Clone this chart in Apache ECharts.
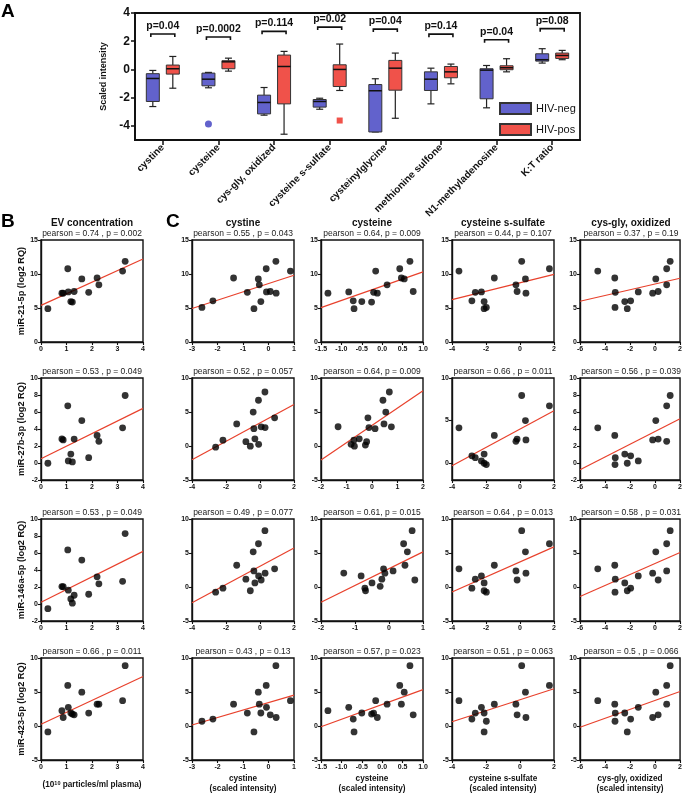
<!DOCTYPE html>
<html><head><meta charset="utf-8">
<script src="https://cdn.jsdelivr.net/npm/echarts@6/dist/echarts.min.js"></script>
<style>html,body{margin:0;padding:0;background:#fff}#c{width:685px;height:795px}</style>
</head><body><div id="c"></div>
<script>
// ---------- Panel A data ----------
const metabolites = ['cystine','cysteine','cys-gly, oxidized','cysteine s-sulfate','cysteinylglycine','methionine sulfone','N1-methyladenosine','K:T ratio'];
// [min, q1, median, q3, max]
const hivNegBox = [
  [-2.63,-2.27,-0.64,-0.30,-0.07],
  [-1.30,-1.16,-0.69,-0.26,-0.21],
  [-3.24,-3.15,-2.34,-1.82,-1.28],
  [-2.82,-2.67,-2.27,-2.13,-2.04],
  [-4.43,-4.43,-1.51,-1.07,-0.66],
  [-2.44,-1.49,-0.69,-0.17,0.09],
  [-2.72,-2.08,-0.05,0.05,0.28],
  [0.45,0.59,0.69,1.11,1.47]
];
const hivPosBox = [
  [-1.33,-0.33,0.05,0.31,0.92],
  [-0.12,0.05,0.54,0.62,0.80],
  [-4.59,-2.44,0.21,1.02,1.28],
  [-1.49,-1.21,0.00,0.33,1.80],
  [-3.46,-1.47,0.09,0.64,1.16],
  [-1.02,-0.59,-0.17,0.21,0.38],
  [-0.17,-0.02,0.12,0.26,0.76],
  [0.69,0.78,0.99,1.16,1.35]
];
const hivNegOutliers = [[1,-3.86]];
const hivPosOutliers = [[3,-3.62]];
const bracketY = [2.51,2.30,2.70,3.00,2.86,2.50,2.10,2.89];
const pLabels = ['p=0.04','p=0.0002','p=0.114','p=0.02','p=0.04','p=0.14','p=0.04','p=0.08'];
const aYTicks = [-4,-2,0,2,4];

// ---------- Panels B / C data (one entry per subject; null = not measured) ----------
const evConc   = [0.27,0.82,0.87,1.05,1.07,1.17,1.23,1.30,1.60,1.87,2.20,2.27,3.20,3.30,null,null];
const cystine  = [-0.57,null,0.30,-0.09,-0.08,-0.30,null,0.07,-0.40,-0.83,-1.37,-0.36,0.86,0.29,-2.61,-2.18];
const cysteine = [-0.69,-1.33,-0.12,0.43,-0.82,-0.50,-0.26,0.76,0.54,-0.21,0.47,0.12,-0.16,0.68,null,-0.71];
const sSulfate = [-2.11,null,0.35,1.73,-2.27,-2.11,null,-0.17,0.32,-2.63,-1.51,-0.24,-3.59,0.10,-1.98,-2.83];
const cysGlyOx = [-2.22,null,-0.19,0.93,-1.34,-2.42,null,0.25,0.06,-3.18,-3.22,0.93,-4.58,1.21,-3.20,-1.95];
const miR21    = [4.90,7.18,7.18,10.77,7.36,5.95,5.87,7.43,9.28,7.30,9.41,8.41,10.43,11.87,5.08,6.05];
const miR27b   = [-0.03,2.83,2.71,6.73,0.25,1.05,0.13,2.82,4.99,0.63,3.25,2.55,4.14,7.94,-0.18,0.85];
const miR146a  = [-0.55,2.05,2.03,6.36,1.63,0.60,0.10,1.03,5.17,1.15,3.20,2.37,2.67,8.28,-0.76,-0.18];
const miR423   = [-0.87,2.25,1.25,5.97,2.75,1.91,1.76,1.64,4.98,1.90,3.21,3.21,3.72,8.87,0.70,1.02];

const colTitles = ['EV concentration','cystine','cysteine','cysteine s-sulfate','cys-gly, oxidized'];
const colX = [evConc, cystine, cysteine, sSulfate, cysGlyOx];
const colXNames = ['(10{s|10} particles/ml plasma)','cystine\n(scaled intensity)','cysteine\n(scaled intensity)','cysteine s-sulfate\n(scaled intensity)','cys-gly, oxidized\n(scaled intensity)'];
const rowNames = ['miR-21-5p (log2 RQ)','miR-27b-3p (log2 RQ)','miR-146a-5p (log2 RQ)','miR-423-5p (log2 RQ)'];
const rowY = [miR21, miR27b, miR146a, miR423];
const pearsonText = [
  ['pearson = 0.74 , p = 0.002','pearson = 0.55 , p = 0.043','pearson = 0.64, p = 0.009','pearson = 0.44, p = 0.107','pearson = 0.37 , p = 0.19'],
  ['pearson = 0.53 , p = 0.049','pearson = 0.52 , p = 0.057','pearson = 0.64, p = 0.009','pearson = 0.66 , p = 0.011','pearson = 0.56 , p = 0.039'],
  ['pearson = 0.53 , p = 0.049','pearson = 0.49 , p = 0.077','pearson = 0.61, p = 0.015','pearson = 0.64 , p = 0.013','pearson = 0.58 , p = 0.031'],
  ['pearson = 0.66 , p = 0.011','pearson = 0.43 , p = 0.13','pearson = 0.57, p = 0.023','pearson = 0.51 , p = 0.063','pearson = 0.5 , p = 0.066']
];
// axis ticks: [min, max, interval]
const xTicks = [
  [[0,4,1],[-3,1,1],[-1.5,1,0.5],[-4,2,2],[-6,2,2]],
  [[0,4,1],[-4,2,2],[-2,2,1],[-4,2,2],[-6,2,2]],
  [[0,4,1],[-4,2,2],[-2,1,1],[-4,2,2],[-6,2,2]],
  [[0,4,1],[-3,1,1],[-1.5,1,0.5],[-4,2,2],[-6,2,2]]
];
const yTicks = [
  [[0,15,5],[0,15,5],[0,15,5],[0,15,5],[0,15,5]],
  [[-2,10,2],[-5,10,5],[-5,10,5],[-2,10,null],[-2,10,2]],
  [[-2,10,2],[-5,10,5],[-5,10,5],[-5,10,5],[-5,10,5]],
  [[-5,10,5],[-5,10,5],[-5,10,5],[-5,10,5],[-5,10,5]]
];
const yCustomLabels = [0,5,10];

// ---------- layout ----------
const F = '"Liberation Sans", Arial, sans-serif';
const colLeft = [41,192,321,452,580];
const rowTop = [240,378,519,658];
const PW = 102, PH = 102;
const A = {left:135, top:13, width:445, height:127};
const NEG = '#6262cc', POS = '#f0524a', INK = '#111';

const grids = [{left:A.left, top:A.top, width:A.width, height:A.height, show:true, borderColor:'#111', borderWidth:1.8, backgroundColor:'transparent'}];
const xAxes = [{
  gridIndex:0, type:'category', data:metabolites, boundaryGap:true,
  axisLine:{show:true, onZero:false, lineStyle:{color:INK, width:1.8}},
  axisTick:{show:true, alignWithLabel:true, length:5, lineStyle:{color:INK, width:1.5}},
  axisLabel:{interval:0, rotate:45, fontFamily:F, fontWeight:'bold', fontSize:10, color:INK, margin:6},
  splitLine:{show:false}
}];
const yAxes = [{
  gridIndex:0, type:'value', min:-5, max:4,
  axisLine:{show:true, onZero:false, lineStyle:{color:INK, width:1.8}},
  axisTick:{show:true, length:4, customValues:aYTicks, lineStyle:{color:INK, width:1.5}},
  axisLabel:{customValues:aYTicks, fontFamily:F, fontWeight:'bold', fontSize:12, color:INK, margin:5},
  splitLine:{show:false},
  name:'Scaled intensity', nameLocation:'middle', nameGap:24,
  nameTextStyle:{fontFamily:F, fontWeight:'bold', fontSize:9, color:INK}
}];

const BOX_W = 13, CAP_W = 7, OFF = 10;
function boxRenderer(offset, fill){
  return function(params, api){
    const cat = api.value(0);
    const x = api.coord([cat, 0])[0] + offset;
    const y = k => api.coord([cat, api.value(k)])[1];
    const yMin = y(1), yQ1 = y(2), yMed = y(3), yQ3 = y(4), yMax = y(5);
    const ls = {stroke:'#222', lineWidth:1.2};
    return {type:'group', children:[
      {type:'line', shape:{x1:x,y1:yMax,x2:x,y2:yQ3}, style:ls},
      {type:'line', shape:{x1:x,y1:yQ1,x2:x,y2:yMin}, style:ls},
      {type:'line', shape:{x1:x-CAP_W/2,y1:yMax,x2:x+CAP_W/2,y2:yMax}, style:ls},
      {type:'line', shape:{x1:x-CAP_W/2,y1:yMin,x2:x+CAP_W/2,y2:yMin}, style:ls},
      {type:'rect', shape:{x:x-BOX_W/2, y:yQ3, width:BOX_W, height:Math.max(yQ1-yQ3,0.5)}, style:{fill:fill, stroke:'#333', lineWidth:1}},
      {type:'line', shape:{x1:x-BOX_W/2,y1:yMed,x2:x+BOX_W/2,y2:yMed}, style:{stroke:'#111', lineWidth:1.5}}
    ]};
  };
}
function outlierRenderer(offset, fill, shape){
  return function(params, api){
    const p = api.coord([api.value(0), api.value(1)]);
    const x = p[0] + offset;
    if (shape === 'circle') return {type:'circle', shape:{cx:x, cy:p[1], r:3.5}, style:{fill:fill}};
    return {type:'rect', shape:{x:x-3, y:p[1]-3, width:6, height:6}, style:{fill:fill}};
  };
}
const series = [
  {name:'HIV-neg', type:'custom', xAxisIndex:0, yAxisIndex:0, renderItem:boxRenderer(-OFF, NEG),
   itemStyle:{color:NEG, borderColor:'#333', borderWidth:1},
   data:hivNegBox.map((b,i)=>[i].concat(b)), encode:{x:0, y:[1,2,3,4,5]}, silent:true},
  {name:'HIV-pos', type:'custom', xAxisIndex:0, yAxisIndex:0, renderItem:boxRenderer(OFF, POS),
   itemStyle:{color:POS, borderColor:'#333', borderWidth:1},
   data:hivPosBox.map((b,i)=>[i].concat(b)), encode:{x:0, y:[1,2,3,4,5]}, silent:true},
  {type:'custom', xAxisIndex:0, yAxisIndex:0, renderItem:outlierRenderer(-OFF, NEG, 'circle'), data:hivNegOutliers, silent:true},
  {type:'custom', xAxisIndex:0, yAxisIndex:0, renderItem:outlierRenderer(OFF, POS, 'rect'), data:hivPosOutliers, silent:true},
  {type:'custom', xAxisIndex:0, yAxisIndex:0, silent:true,
   data:bracketY.map((v,i)=>[i, v]),
   renderItem:function(params, api){
     const p = api.coord([api.value(0), api.value(1)]);
     const hw = 12, leg = 3;
     return {type:'group', children:[
       {type:'polyline', shape:{points:[[p[0]-hw,p[1]+leg],[p[0]-hw,p[1]],[p[0]+hw,p[1]],[p[0]+hw,p[1]+leg]]}, style:{stroke:'#111', lineWidth:1.6, fill:null}},
       {type:'text', x:p[0], y:p[1]-8, style:{text:pLabels[params.dataIndex], font:'bold 10.5px '+F, fill:'#111', align:'center', verticalAlign:'middle', textAlign:'center', textVerticalAlign:'middle'}}
     ]};
   }}
];

function fit(xs, ys){
  let n=0,sx=0,sy=0;
  for (let i=0;i<xs.length;i++){ if(xs[i]==null||ys[i]==null) continue; n++; sx+=xs[i]; sy+=ys[i]; }
  const mx=sx/n, my=sy/n; let sxy=0,sxx=0;
  for (let i=0;i<xs.length;i++){ if(xs[i]==null||ys[i]==null) continue; sxy+=(xs[i]-mx)*(ys[i]-my); sxx+=(xs[i]-mx)*(xs[i]-mx); }
  const b=sxy/sxx; return {a:my-b*mx, b:b};
}

const graphics = [
  {type:'text', x:1, y:2, style:{text:'A', font:'bold 19px '+F, fill:'#000'}},
  {type:'text', x:1, y:212, style:{text:'B', font:'bold 19px '+F, fill:'#000'}},
  {type:'text', x:166, y:212, style:{text:'C', font:'bold 19px '+F, fill:'#000'}}
];

let gi = 1;
for (let r=0;r<4;r++){
  for (let c=0;c<5;c++){
    const left = colLeft[c], top = rowTop[r];
    grids.push({left:left, top:top, width:PW, height:PH, show:true, borderColor:INK, borderWidth:1.4, backgroundColor:'transparent'});
    const xt = xTicks[r][c], yt = yTicks[r][c];
    const dec = xt[2] < 1;
    const xa = {gridIndex:gi, type:'value', min:xt[0], max:xt[1], interval:xt[2],
      axisLine:{show:true, onZero:false, lineStyle:{color:INK, width:1.4}},
      axisTick:{show:true, length:3, lineStyle:{color:INK, width:1.1}},
      axisLabel:{fontFamily:F, fontWeight:'bold', fontSize:7, color:INK, margin:4,
        formatter: v => dec ? v.toFixed(1) : String(v)},
      splitLine:{show:false}};
    if (r === 3){
      xa.name = colXNames[c]; xa.nameLocation = 'middle';
      xa.nameGap = c === 0 ? 20 : 14;
      xa.nameTextStyle = {fontFamily:F, fontWeight:'bold', fontSize:8.2, color:INK, lineHeight:10,
        rich:{s:{fontFamily:F, fontWeight:'bold', fontSize:5.5, lineHeight:5, verticalAlign:'top', color:INK}}};
    }
    xAxes.push(xa);
    const ya = {gridIndex:gi, type:'value', min:yt[0], max:yt[1],
      axisLine:{show:true, onZero:false, lineStyle:{color:INK, width:1.4}},
      axisTick:{show:true, length:3, lineStyle:{color:INK, width:1.1}},
      axisLabel:{fontFamily:F, fontWeight:'bold', fontSize:7, color:INK, margin:3},
      splitLine:{show:false}};
    if (yt[2] == null){
      ya.axisLabel.customValues = yCustomLabels;
      ya.axisTick.customValues = yCustomLabels;
    } else ya.interval = yt[2];
    if (c === 0){
      ya.name = rowNames[r]; ya.nameLocation = 'middle'; ya.nameGap = 14;
      ya.nameTextStyle = {fontFamily:F, fontWeight:'bold', fontSize:9.2, color:INK};
    }
    yAxes.push(ya);
    const xs = colX[c], ys = rowY[r];
    const pts = [];
    for (let i=0;i<xs.length;i++) if (xs[i]!=null && ys[i]!=null) pts.push([xs[i], ys[i]]);
    series.push({type:'scatter', xAxisIndex:gi, yAxisIndex:gi, data:pts, symbolSize:6.8,
      itemStyle:{color:'#000'}, silent:true, z:3});
    const f = fit(xs, ys);
    series.push({type:'line', xAxisIndex:gi, yAxisIndex:gi, symbol:'none', silent:true, clip:true,
      data:[[xt[0], f.a+f.b*xt[0]],[xt[1], f.a+f.b*xt[1]]],
      lineStyle:{color:'#e8412c', width:1.2}, z:2});
    graphics.push({type:'text', x:left+PW/2, y:top-6.5, style:{text:pearsonText[r][c], font:'8.5px '+F, fill:'#222', align:'center', verticalAlign:'middle', textAlign:'center', textVerticalAlign:'middle'}});
    if (r === 0) graphics.push({type:'text', x:left+PW/2, y:top-17, style:{text:colTitles[c], font:'bold 10px '+F, fill:'#111', align:'center', verticalAlign:'middle', textAlign:'center', textVerticalAlign:'middle'}});
    gi++;
  }
}

const chart = echarts.init(document.getElementById('c'), null, {renderer:'canvas'});
chart.setOption({
  animation:false,
  backgroundColor:'#fff',
  grid:grids, xAxis:xAxes, yAxis:yAxes, series:series,
  legend:{data:['HIV-neg','HIV-pos'], orient:'vertical', left:499, top:102, padding:0, icon:'rect',
    itemWidth:31, itemHeight:11, itemGap:8, selectedMode:false,
    textStyle:{fontFamily:F, fontSize:11, color:'#111'}},
  graphic:graphics
});
</script></body></html>
